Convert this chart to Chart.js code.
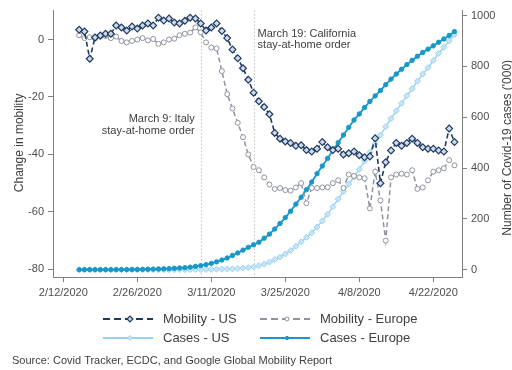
<!DOCTYPE html>
<html><head><meta charset="utf-8">
<script src="https://cdn.jsdelivr.net/npm/chart.js@4.4.0/dist/chart.umd.min.js"></script>
<style>html,body{margin:0;padding:0;background:#fff}canvas{display:block}</style>
</head><body>
<canvas id="c" width="512" height="370" style="width:512px;height:370px"></canvas>
<script>
// days with data (2020)
const dates = [
  '2/15','2/16','2/17','2/18','2/19','2/20','2/21','2/22','2/23','2/24','2/25','2/26','2/27','2/28','2/29',
  '3/1','3/2','3/3','3/4','3/5','3/6','3/7','3/8','3/9','3/10','3/11','3/12','3/13','3/14','3/15','3/16',
  '3/17','3/18','3/19','3/20','3/21','3/22','3/23','3/24','3/25','3/26','3/27','3/28','3/29','3/30','3/31',
  '4/1','4/2','4/3','4/4','4/5','4/6','4/7','4/8','4/9','4/10','4/11','4/12','4/13','4/14','4/15','4/16',
  '4/17','4/18','4/19','4/20','4/21','4/22','4/23','4/24','4/25','4/26'
];
const mobilityUS = [
  3.4, 2.8, -6.7, 0.7, 1.4, 2.0, 2.0, 4.9, 4.2, 3.1, 4.5, 3.8, 4.9, 5.6, 4.9,
  7.6, 6.6, 7.3, 5.9, 5.6, 6.5, 7.6, 7.3, 5.6, 3.1, 4.2, 5.6, 3.0, 0.5, -3.5, -6.5,
  -10, -14, -18.5, -21.5, -23.5, -26, -32.5, -34.5, -35.5, -36, -37, -36.8, -38.5, -39, -38,
  -35.7, -37.5, -38.5, -38, -40, -39.6, -39, -40.3, -41, -40.7, -34.4, -50, -42.7, -38.6, -36, -37,
  -36, -34.5, -36, -37.5, -38, -38, -38.6, -39, -31, -35.7
];
const mobilityEurope = [
  1.5, 0.5, 0.8, 0.4, 1.0, 1.2, 0.5, 1.0, -0.5, -1.0, -0.5, 0, 0.5, -0.3, 0.2,
  -1.5, -1.0, 0, 0.3, 1.5, 2.0, 2.4, 4.2, 2.5, -1.0, -2.8, -3.1, -11, -19, -24, -29,
  -34, -40, -44.4, -45.5, -48, -50.5, -52, -51.7, -52.4, -52.6, -51.5, -50, -57, -51.7, -51.7,
  -51.5, -51.4, -50, -49, -51.7, -47, -47.5, -48, -48.3, -58.8, -46, -56, -70, -48, -47, -46.7,
  -47, -45.5, -52, -51.5, -49, -46, -45.5, -44.8, -42, -43.8
];
const casesUS = [
  0, 0, 0, 0, 0, 0, 0, 0, 0, 0, 0, 0, 0, 0, 0.1,
  0.1, 0.1, 0.1, 0.2, 0.2, 0.3, 0.4, 0.5, 0.7, 1, 1.3, 1.7, 2.2, 2.9, 3.5, 4.6,
  6.4, 8, 11, 16, 22, 30, 40, 50, 62, 76, 92, 110, 127, 145, 168,
  192, 218, 248, 278, 308, 337, 365, 395, 428, 462, 495, 530, 563, 595, 625, 655,
  685, 712, 742, 770, 795, 823, 851, 875, 900, 925
];
const casesEurope = [
  0.1, 0.1, 0.1, 0.1, 0.1, 0.1, 0.2, 0.3, 0.4, 0.5, 0.8, 1, 1.3, 1.8, 2.3,
  2.8, 3.5, 4.3, 5.5, 6.8, 8, 10, 13, 16, 20, 25, 31, 38, 46, 56, 66,
  77, 88, 98, 108, 124, 140, 160, 182, 205, 230, 258, 285, 315, 345, 378,
  408, 438, 470, 500, 530, 560, 589, 613, 638, 662, 684, 705, 728, 750, 770, 789,
  807, 824, 840, 855, 868, 881, 895, 908, 922, 937
];
const xTickDates = ['2/12/2020', '2/26/2020', '3/11/2020', '3/25/2020', '4/8/2020', '4/22/2020'];
const mobilityTicks = [-80, -60, -40, -20, 0];
const casesTicks = [0, 200, 400, 600, 800, 1000];
const eventDates = ['3/9', '3/19'];
const eventLabels = [['March 9: Italy', 'stay-at-home order'], ['March 19: California', 'stay-at-home order']];
const sourceText = 'Source: Covid Tracker, ECDC, and Google Global Mobility Report';

const FONT = "'Liberation Sans', Arial, sans-serif";
const base = Date.UTC(2020, 1, 12);
function dayNum(s) {
  const p = s.split('/').map(Number);
  return (Date.UTC(p[2] || 2020, p[0] - 1, p[1]) - base) / 864e5;
}
function fmt(v) {
  const d = new Date(base + v * 864e5);
  return (d.getUTCMonth() + 1) + '/' + d.getUTCDate() + '/' + d.getUTCFullYear();
}
const pts = arr => arr.map((v, i) => ({x: dayNum(dates[i]), y: v}));

const datasets = [
  {label: 'Mobility - US', data: pts(mobilityUS), yAxisID: 'y', order: 1,
   borderColor: '#1f3a60', borderWidth: 1.6, borderDash: [5, 3],
   pointStyle: 'rectRot', pointRadius: 3.4, pointBorderWidth: 1.2,
   pointBorderColor: '#1f3a60', pointBackgroundColor: '#cfdbea'},
  {label: 'Mobility - Europe', data: pts(mobilityEurope), yAxisID: 'y', order: 2,
   borderColor: '#8f939e', borderWidth: 1.5, borderDash: [5, 3],
   pointStyle: 'circle', pointRadius: 2.5, pointBorderWidth: 1,
   pointBorderColor: '#8f939e', pointBackgroundColor: '#ffffff'},
  {label: 'Cases - US', data: pts(casesUS), yAxisID: 'y2', order: 4,
   borderColor: '#9dd2ef', borderWidth: 1.5,
   pointStyle: 'rectRot', pointRadius: 3, pointBorderWidth: 1,
   pointBorderColor: '#9dd2ef', pointBackgroundColor: '#c6e6f7'},
  {label: 'Cases - Europe', data: pts(casesEurope), yAxisID: 'y2', order: 3,
   borderColor: '#1898c8', borderWidth: 1.8,
   pointStyle: 'circle', pointRadius: 2.2, pointBorderWidth: 1,
   pointBorderColor: '#1898c8', pointBackgroundColor: '#1898c8'}
];

const tickFont = {family: FONT, size: 11};
const axisGrid = {drawOnChartArea: false, drawTicks: true, tickLength: 5, tickColor: '#808080'};
const axisBorder = {display: true, color: '#808080', width: 1};
const setTicks = arr => scale => { scale.ticks = arr.map(v => ({value: v})); };

const decor = {
  id: 'decor',
  beforeDatasetsDraw(chart) {
    const {ctx, chartArea: a, scales: {x}} = chart;
    ctx.save();
    ctx.strokeStyle = '#c4c4c4'; ctx.lineWidth = 1; ctx.setLineDash([1.5, 2]);
    eventDates.forEach(d => {
      const px = Math.round(x.getPixelForValue(dayNum(d))) + 0.5;
      ctx.beginPath(); ctx.moveTo(px, a.top); ctx.lineTo(px, a.bottom); ctx.stroke();
    });
    ctx.restore();
  },
  afterDraw(chart) {
    const {ctx, chartArea: a, scales: {x}} = chart;
    ctx.save();
    ctx.fillStyle = '#404040';
    ctx.textBaseline = 'middle';
    ctx.font = '11px ' + FONT;
    // event notes
    const px1 = x.getPixelForValue(dayNum(eventDates[0]));
    ctx.textAlign = 'right';
    ctx.fillText(eventLabels[0][0], px1 - 6, 118.5);
    ctx.fillText(eventLabels[0][1], px1 - 6, 130.5);
    const px2 = x.getPixelForValue(dayNum(eventDates[1]));
    ctx.textAlign = 'left';
    ctx.fillText(eventLabels[1][0], px2 + 4, 33.5);
    ctx.fillText(eventLabels[1][1], px2 + 4, 44.5);
    // axis titles
    ctx.font = '12px ' + FONT;
    ctx.textAlign = 'center';
    const cy = (a.top + a.bottom) / 2;
    ctx.save(); ctx.translate(20, cy - 1); ctx.rotate(-Math.PI / 2);
    ctx.fillText('Change in mobility', 0, 0); ctx.restore();
    ctx.save(); ctx.translate(508, cy + 4); ctx.rotate(-Math.PI / 2);
    ctx.fillText("Number of Covid-19 cases ('000)", 0, 0); ctx.restore();
    // legend
    const cols = [103, 260], rows = [319, 338];
    ctx.font = '13px ' + FONT;
    ctx.textAlign = 'left';
    datasets.forEach((ds, i) => {
      const lx = cols[i % 2], ly = rows[Math.floor(i / 2)];
      ctx.strokeStyle = ds.borderColor; ctx.lineWidth = ds.borderWidth + 0.4;
      ctx.setLineDash(ds.borderDash ? [7, 4] : []);
      ctx.beginPath(); ctx.moveTo(lx, ly); ctx.lineTo(lx + 50, ly); ctx.stroke();
      ctx.setLineDash([]);
      ctx.fillStyle = ds.pointBackgroundColor; ctx.strokeStyle = ds.pointBorderColor;
      ctx.lineWidth = ds.pointBorderWidth;
      Chart.helpers.drawPoint(ctx, {pointStyle: ds.pointStyle, radius: ds.pointRadius - 0.5, borderWidth: ds.pointBorderWidth, rotation: 0}, lx + 27, ly);
      ctx.fillStyle = '#404040';
      ctx.fillText(ds.label, lx + 60, ly);
    });
    // source
    ctx.font = '11px ' + FONT;
    ctx.fillText(sourceText, 12, 361);
    ctx.restore();
  }
};

new Chart(document.getElementById('c'), {
  type: 'line',
  data: {datasets},
  plugins: [decor],
  options: {
    responsive: false, animation: false,
    layout: {padding: {top: 10, left: 0, right: 0, bottom: 0}},
    plugins: {legend: {display: false}, tooltip: {enabled: false}},
    scales: {
      x: {
        type: 'linear', position: 'bottom',
        min: dayNum(xTickDates[0]) - 1.95, max: dayNum(xTickDates[5]) + 5.43,
        afterBuildTicks: setTicks(xTickDates.map(dayNum)),
        afterFit: s => { s.height = 93; },
        grid: axisGrid, border: axisBorder,
        ticks: {font: tickFont, color: '#4d4d4d', padding: 4, maxRotation: 0, autoSkip: false, callback: v => fmt(v)}
      },
      y: {
        type: 'linear', position: 'left', min: -82.67, max: 10.07,
        afterBuildTicks: setTicks(mobilityTicks),
        afterFit: s => { s.width = 53; },
        grid: axisGrid, border: axisBorder,
        ticks: {font: tickFont, color: '#4d4d4d', padding: 4, callback: v => String(v)}
      },
      y2: {
        type: 'linear', position: 'right', min: -28.7, max: 1019.6,
        afterBuildTicks: setTicks(casesTicks),
        afterFit: s => { s.width = 50; },
        grid: axisGrid, border: axisBorder,
        ticks: {font: tickFont, color: '#4d4d4d', padding: 4, callback: v => String(v)}
      }
    }
  }
});
</script>
</body></html>
